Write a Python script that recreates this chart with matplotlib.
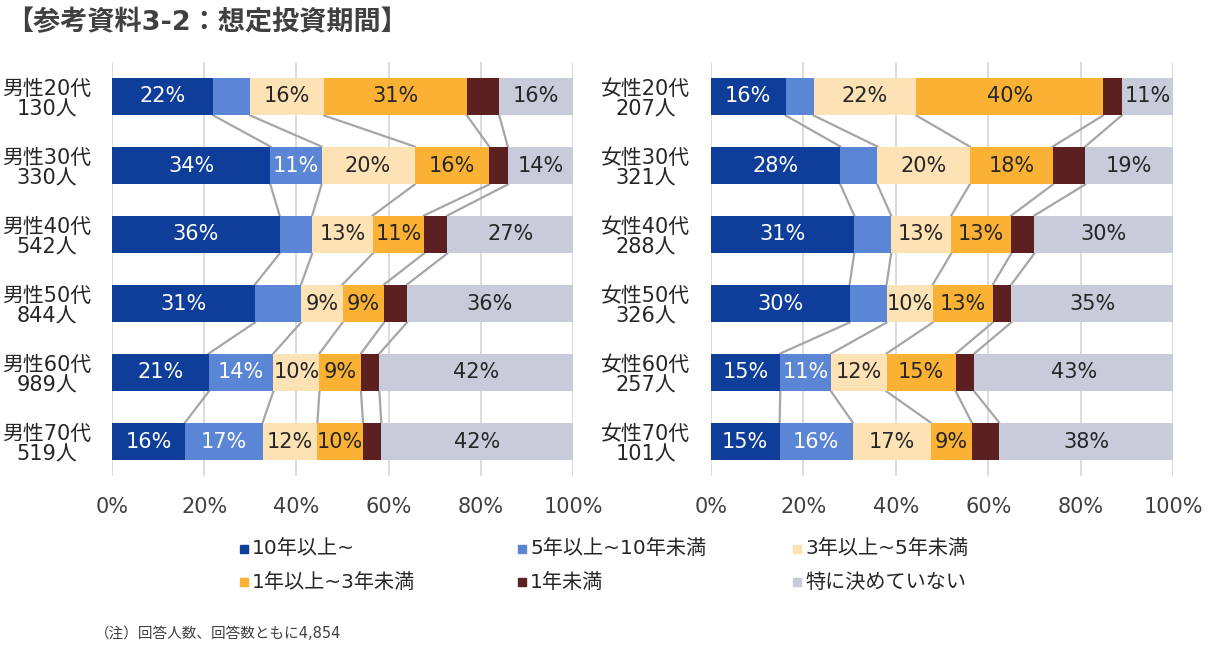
import matplotlib
matplotlib.use("Agg")
import matplotlib.pyplot as plt
from matplotlib.patches import Rectangle

plt.rcParams["font.family"] = ["DejaVu Sans", "Noto Sans CJK JP"]

# Data (percent)
categories = ["10年以上~", "5年以上~10年未満", "3年以上~5年未満",
              "1年以上~3年未満", "1年未満", "特に決めていない"]
colors = ["#0E3E9A", "#5A86D5", "#FDE2B5", "#FBB134", "#5C2020", "#C8CCDA"]
label_colors = ["white", "white", "#262626", "#262626", "white", "#262626"]

male_groups = ["男性20代\n130人", "男性30代\n330人", "男性40代\n542人",
               "男性50代\n844人", "男性60代\n989人", "男性70代\n519人"]
male_values = [
    [22, 8, 16, 31, 7, 16],
    [34, 11, 20, 16, 4, 14],
    [36, 7, 13, 11, 5, 27],
    [31, 10, 9, 9, 5, 36],
    [21, 14, 10, 9, 4, 42],
    [16, 17, 12, 10, 4, 42],
]

female_groups = ["女性20代\n207人", "女性30代\n321人", "女性40代\n288人",
                 "女性50代\n326人", "女性60代\n257人", "女性70代\n101人"]
female_values = [
    [16, 6, 22, 40, 4, 11],
    [28, 8, 20, 18, 7, 19],
    [31, 8, 13, 13, 5, 30],
    [30, 8, 10, 13, 4, 35],
    [15, 11, 12, 15, 4, 43],
    [15, 16, 17, 9, 6, 38],
]

# segments whose label was left off in the original
hidden_labels = {("male", 3, 1)}

W, H = 1210, 646
fig = plt.figure(figsize=(W / 100, H / 100), dpi=100)

bar_h = 0.55


def draw_panel(ax, groups, values, key):
    n = len(groups)
    cums = []
    for i, row in enumerate(values):
        total = sum(row)  # rounded shares, stretch each bar to 100%
        left = 0
        cum = [0]
        for j, v in enumerate(row):
            w = v * 100 / total
            ax.barh(i, w, left=left, height=bar_h, color=colors[j], zorder=3)
            show = v >= 9 and j != 4 and (key, i, j) not in hidden_labels
            if show:
                ax.text(left + w / 2, i, f"{v}%", ha="center", va="center",
                        fontsize=15, color=label_colors[j], zorder=4)
            left += w
            cum.append(left)
        cums.append(cum)

    # series lines between neighbouring bars
    for i in range(n - 1):
        for k in range(1, 6):
            ax.plot([cums[i][k], cums[i + 1][k]],
                    [i + bar_h / 2, i + 1 - bar_h / 2],
                    color="#A6A6A6", lw=1.6, zorder=2)

    ax.set_xlim(0, 100)
    ax.set_ylim(n - 0.5, -0.5)
    ax.set_xticks(range(0, 101, 20))
    ax.set_xticklabels([f"{t}%" for t in range(0, 101, 20)], fontsize=15,
                       color="#404040")
    ax.set_yticks(range(n))
    ax.set_yticklabels(groups, fontsize=15, ha="center", color="#262626",
                       multialignment="center", linespacing=1.05)
    ax.tick_params(axis="y", length=0, pad=47)
    ax.tick_params(axis="x", length=0, pad=15)
    ax.grid(axis="x", color="#D9D9D9", lw=1.3, zorder=0)
    for s in ax.spines.values():
        s.set_visible(False)


ax1 = fig.add_axes([112 / W, 1 - 476 / H, 461 / W, 414 / H])
ax2 = fig.add_axes([711 / W, 1 - 476 / H, 462 / W, 414 / H])
draw_panel(ax1, male_groups, male_values, "male")
draw_panel(ax2, female_groups, female_values, "female")

fig.text(6 / W, 1 - 23 / H, "【参考資料3-2：想定投資期間】", fontsize=19.5,
         fontweight="bold", color="#404040", va="center", ha="left")

# legend
leg_x = [244, 522, 797]
leg_y = [549, 582]
for idx, name in enumerate(categories):
    r, c = divmod(idx, 3)
    x, y = leg_x[c], leg_y[r]
    fig.patches.append(Rectangle(((x - 4) / W, 1 - (y + 4) / H), 8 / W, 8 / H,
                                 transform=fig.transFigure, color=colors[idx]))
    fig.text((x + 8) / W, 1 - y / H, name, fontsize=14.5, color="#262626",
             ha="left", va="center")

fig.text(95 / W, 1 - 634 / H, "（注）回答人数、回答数ともに4,854", fontsize=10.5,
         color="#404040", ha="left", va="center")

fig.savefig("out.png", dpi=100, facecolor="white")
